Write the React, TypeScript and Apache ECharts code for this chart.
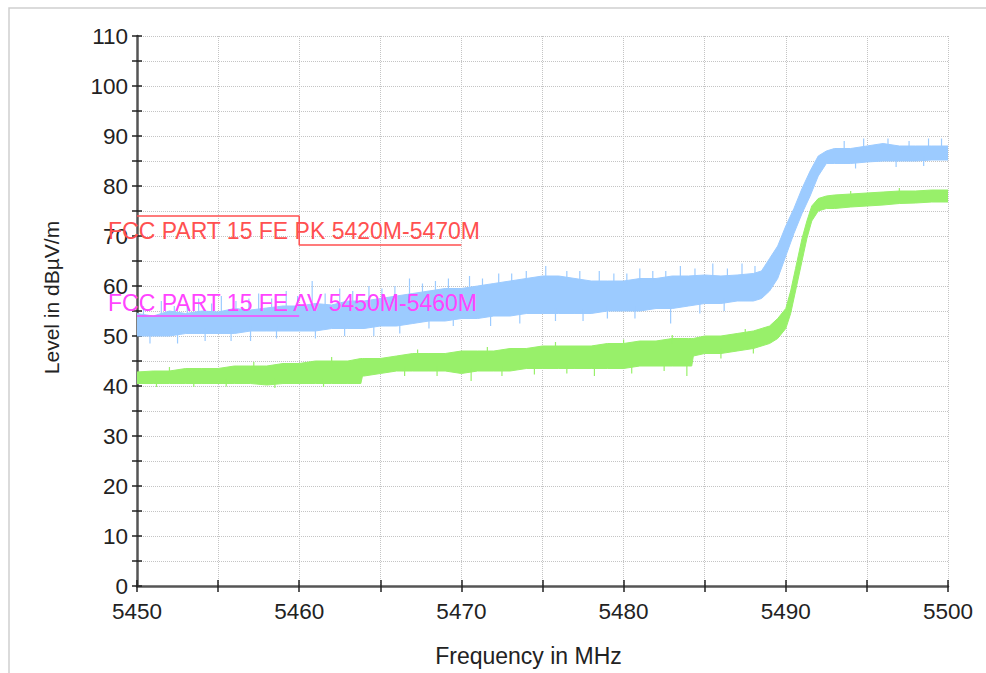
import React, { useEffect, useRef } from "react";
import * as echarts from "echarts";

// ---------- data ----------
const xMin = 5450;
const xMax = 5500;
const yMin = 0;
const yMax = 110;

// Peak trace envelope (light blue)
const pkFreq = [
  5450, 5451, 5452, 5453, 5454, 5455, 5456, 5457, 5458, 5459,
  5460, 5461, 5462, 5463, 5464, 5465, 5466, 5467, 5468, 5469,
  5470, 5471, 5472, 5473, 5474, 5475, 5476, 5477, 5478, 5479,
  5480, 5481, 5482, 5483, 5484, 5485, 5486, 5487, 5488,
  5488.5, 5489, 5489.5, 5490, 5490.5, 5491, 5491.5, 5492, 5492.5,
  5493, 5494, 5495, 5496, 5497, 5498, 5499, 5500,
];
const pkMax = [
  54.5, 54, 55, 54.5, 55, 54.8, 55.5, 55.2, 55.6, 56,
  56, 56.5, 56.2, 57, 57, 57.5, 58, 58.5, 59, 59.5,
  59.5, 60, 60.5, 61, 61.5, 62, 62, 61.5, 61, 61,
  61, 61.5, 61.5, 62, 62, 62.2, 62, 62.2, 62.5,
  63, 65.5, 68, 72, 75.5, 79.5, 83, 86, 87,
  87.5, 87.5, 88, 88.5, 88, 88, 88, 88,
];
const pkMin = [
  50, 50, 50, 50.5, 50.5, 50.5, 50.5, 51, 51, 51,
  51, 51, 51.5, 51.5, 51.5, 52, 52, 52.5, 53, 53,
  53.5, 53.5, 54, 54, 54.5, 54.5, 54.5, 54.5, 54.5, 55,
  55, 55, 55.5, 55.5, 56, 56.5, 56.5, 57, 57,
  57.5, 59, 61.5, 66, 70.5, 74.5, 78, 82, 84.5,
  84.5, 84.5, 84.8, 85, 85, 85, 85.2, 85.2,
];
// isolated noise spikes of the peak trace: [freq, from, to]
const pkSpikes = [
  [5450.4, 53.5, 56], [5451.5, 54, 57], [5452.3, 54, 56], [5453.1, 54, 56.5],
  [5453.8, 54.5, 57.5], [5454.6, 54.5, 56.5], [5455.2, 54.5, 58], [5456.1, 55, 57],
  [5456.9, 55, 57.5], [5457.5, 55, 58.5], [5458.3, 55, 57.5], [5459.2, 55.5, 59],
  [5459.9, 55.5, 58], [5460.8, 56, 61], [5461.6, 56, 58.5], [5462.5, 56, 59.5],
  [5463.3, 56.5, 59], [5464.3, 57, 60], [5465.1, 57, 59.5], [5465.9, 57.5, 60],
  [5466.8, 58, 61.5], [5467.6, 58, 60.5], [5468.4, 58.5, 61], [5469.2, 59, 61.5],
  [5470.5, 59, 62], [5471.3, 59.5, 61.5], [5472.3, 60, 62.5], [5473.1, 60.5, 62.5],
  [5474, 61, 63], [5475.2, 61.5, 64], [5476.5, 61.5, 63], [5477.3, 61, 63],
  [5478.5, 60.5, 63], [5479.4, 60.5, 62.5], [5480.2, 60.5, 62.5], [5481, 61, 63.5],
  [5481.8, 61, 63], [5482.6, 61, 63], [5483.5, 61.5, 64], [5484.4, 61.5, 63.5],
  [5485.5, 62, 64.5], [5486.4, 61.5, 63.5], [5487.3, 62, 64.5], [5488.1, 62, 64],
  [5493.6, 87, 89], [5494.8, 87, 89.5], [5496.3, 87.5, 89.5], [5497.6, 87.5, 89],
  [5498.8, 87.5, 89.5], [5499.6, 87.5, 89.5],
  [5450.8, 48.5, 51], [5452.5, 48.5, 51], [5454.2, 49, 51.5], [5455.8, 49, 51.5],
  [5457, 49, 52], [5458.6, 49.5, 52], [5461, 49.5, 52], [5462.8, 50, 52.5],
  [5464.6, 50, 52.5], [5466.2, 50.5, 53], [5468, 51.5, 54], [5469.5, 52, 54],
  [5471.8, 52, 54.5], [5473.6, 52.5, 55], [5475.8, 53, 55.5], [5477.5, 53, 55.5],
  [5479, 53.5, 56], [5480.7, 53.5, 56], [5482.9, 52.5, 56], [5484.7, 54.5, 57],
  [5486.2, 55, 57.5], [5494.3, 83.5, 85.5], [5496.8, 83.8, 86], [5498.5, 84, 86],
];

// Average trace envelope (light green)
const avFreq = [
  5450, 5451, 5452, 5453, 5454, 5455, 5456, 5457, 5458, 5459,
  5460, 5461, 5462, 5463, 5463.8, 5463.9, 5464, 5465, 5466, 5467,
  5468, 5469, 5470, 5471, 5472, 5473, 5474, 5475, 5476, 5477,
  5478, 5479, 5480, 5481, 5482, 5483, 5484, 5484.2, 5484.3, 5485,
  5486, 5487, 5488, 5489, 5489.5, 5490, 5490.3, 5490.6, 5491, 5491.3,
  5491.6, 5492, 5492.5, 5493, 5494, 5495, 5496, 5497, 5498, 5499, 5500,
];
const avMax = [
  42.8, 43, 43, 43.5, 43.5, 43.5, 44, 44, 44, 44.5,
  44.5, 45, 45, 45, 45.5, 45.5, 45.5, 45.5, 46, 46.5,
  46.5, 46.5, 47, 47, 47, 47.5, 47.5, 48, 48, 48,
  48, 48.5, 48.5, 49, 49, 49.5, 49.5, 49.5, 49.5, 50,
  50, 50.5, 51, 52, 53.5, 55.5, 59, 63.5, 69.5, 73,
  76, 77.5, 78, 78.2, 78.4, 78.6, 78.8, 79, 79, 79.2, 79.2,
];
const avMin = [
  40.5, 40.5, 40.5, 40.5, 40.5, 40.5, 40.5, 40.5, 40.2, 40.5,
  40.5, 40.5, 40.5, 40.5, 40.5, 42, 42, 42.5, 43, 43,
  43, 43, 42.5, 43, 43, 43, 43.5, 43.5, 43.5, 43.5,
  43.5, 43.5, 43.5, 44, 44, 44, 44, 44, 46, 46.5,
  46.5, 47, 47.5, 48.5, 49.5, 51.5, 54.5, 59, 65, 69.5,
  73, 75, 75.5, 75.5, 75.8, 76, 76.2, 76.5, 76.6, 76.8, 76.8,
];
// isolated noise spikes of the average trace: [freq, from, to]
const avSpikes = [
  [5451.2, 39.8, 41.5], [5453.5, 39.8, 41.5], [5455.5, 39.9, 41.5], [5458.5, 39.6, 41.5],
  [5461.5, 39.8, 41.5], [5466.5, 42, 44], [5468.5, 42, 44], [5470.6, 41, 43.5],
  [5472.5, 42, 44], [5474.5, 42.3, 44.5], [5476.5, 42.5, 44.5], [5478.2, 42, 44.5],
  [5480.5, 42.5, 44.5], [5482.5, 43, 45], [5483.9, 42, 45], [5486, 45.5, 47.5],
  [5488, 46.5, 48.5],
  [5452, 42, 43.8], [5457.2, 43, 44.8], [5462, 44, 45.8], [5467.3, 45.5, 47.3],
  [5471.6, 46, 47.8], [5475.8, 47, 48.8], [5480, 47.5, 49.3], [5483, 48.5, 50.2],
  [5487.5, 49.5, 51.4], [5494, 77.5, 79], [5497, 78, 79.6],
];

// Limit lines
const pkLimit = [[5450, 74], [5460, 74], [5460, 68.2], [5470, 68.2]];
const avLimit = [[5450, 54], [5460, 54]];
const pkLimitLabel = "FCC PART 15 FE PK 5420M-5470M";
const avLimitLabel = "FCC PART 15 FE AV 5450M-5460M";

const xTitle = "Frequency in MHz";
const yTitle = "Level in dBµV/m";

// ---------- styles ----------
const FONT = "'Liberation Sans', Arial, sans-serif";
const BLUE = "#9ccbff";
const GREEN = "#98f06a";
const RED = "#ff5050";
const MAGENTA = "#ff44ff";

function bandSeries(name: string, freq: number[], lo: number[], hi: number[], color: string) {
  return {
    type: "custom",
    name,
    xAxisIndex: 0,
    yAxisIndex: 0,
    silent: true,
    clip: true,
    data: [[freq[0], lo[0]]],
    renderItem: (_p: any, api: any) => {
      const pts: number[][] = [];
      for (let i = 0; i < freq.length; i++) pts.push(api.coord([freq[i], hi[i]]));
      for (let i = freq.length - 1; i >= 0; i--) pts.push(api.coord([freq[i], lo[i]]));
      return {
        type: "polygon",
        shape: { points: pts },
        style: { fill: color, stroke: color, lineWidth: 1 },
      };
    },
  };
}

function spikeSeries(name: string, spikes: number[][], color: string) {
  return {
    type: "custom",
    name,
    xAxisIndex: 0,
    yAxisIndex: 0,
    silent: true,
    clip: true,
    data: spikes,
    encode: { x: 0, y: [1, 2] },
    renderItem: (_p: any, api: any) => {
      const a = api.coord([api.value(0), api.value(1)]);
      const b = api.coord([api.value(0), api.value(2)]);
      return {
        type: "line",
        shape: { x1: a[0], y1: a[1], x2: b[0], y2: b[1] },
        style: { stroke: color, lineWidth: 1.2 },
      };
    },
  };
}

export default function App() {
  const ref = useRef<HTMLDivElement>(null);

  useEffect(() => {
    if (!ref.current) return;
    const chart = echarts.init(ref.current, undefined, { renderer: "svg" });

    const axisLineStyle = { color: "#555", width: 2.5 };
    const tickStyle = { color: "#222", width: 1.5 };
    const gridLine = { show: true, lineStyle: { type: "dotted", color: "#c4c4c4", width: 1 } };

    const option: any = {
      animation: false,
      backgroundColor: "#fff",
      textStyle: { fontFamily: FONT },
      grid: { left: 137, right: 38, top: 36, bottom: 87, containLabel: false },
      xAxis: [
        {
          type: "value",
          min: xMin,
          max: xMax,
          interval: 5,
          name: xTitle,
          nameLocation: "middle",
          nameGap: 58,
          nameTextStyle: { fontSize: 23, color: "#222", fontFamily: FONT, padding: [0, 28, 0, 0] },
          axisLine: { show: true, onZero: false, lineStyle: axisLineStyle },
          axisTick: { show: true, length: 6, lineStyle: tickStyle },
          axisLabel: {
            fontSize: 22.5,
            color: "#222",
            fontFamily: FONT,
            margin: 14,
            formatter: (v: number) => (v % 10 === 0 ? String(v) : ""),
          },
          splitLine: gridLine,
        },
        {
          type: "value",
          min: xMin,
          max: xMax,
          interval: 5,
          position: "bottom",
          axisLine: { show: false },
          axisTick: { show: true, inside: true, length: 6, lineStyle: tickStyle },
          axisLabel: { show: false },
          splitLine: { show: false },
        },
      ],
      yAxis: [
        {
          type: "value",
          min: yMin,
          max: yMax,
          interval: 5,
          name: yTitle,
          nameLocation: "middle",
          nameGap: 75,
          nameTextStyle: { fontSize: 21, color: "#222", fontFamily: FONT, padding: [0, 0, 0, 27] },
          axisLine: { show: true, onZero: false, lineStyle: axisLineStyle },
          axisTick: { show: true, length: 5, lineStyle: tickStyle },
          axisLabel: {
            fontSize: 22.5,
            color: "#222",
            fontFamily: FONT,
            margin: 9,
            formatter: (v: number) => (v % 10 === 0 ? String(v) : ""),
          },
          splitLine: gridLine,
        },
        {
          type: "value",
          min: yMin,
          max: yMax,
          interval: 5,
          position: "left",
          axisLine: { show: false },
          axisTick: { show: true, inside: true, length: 5, lineStyle: tickStyle },
          axisLabel: { show: false },
          splitLine: { show: false },
        },
      ],
      series: [
        bandSeries("PK", pkFreq, pkMin, pkMax, BLUE),
        spikeSeries("PK spikes", pkSpikes, BLUE),
        bandSeries("AV", avFreq, avMin, avMax, GREEN),
        spikeSeries("AV spikes", avSpikes, GREEN),
        {
          type: "line",
          name: pkLimitLabel,
          data: pkLimit,
          symbol: "none",
          silent: true,
          lineStyle: { color: RED, width: 1.5 },
          z: 5,
        },
        {
          type: "line",
          name: avLimitLabel,
          data: avLimit,
          symbol: "none",
          silent: true,
          lineStyle: { color: MAGENTA, width: 1.5 },
          z: 5,
        },
      ],
      graphic: [
        {
          type: "rect",
          shape: { x: 9, y: 8, width: 1200, height: 900 },
          style: { fill: "none", stroke: "#cfcfcf", lineWidth: 1.5 },
          silent: true,
          z: -10,
        },
        {
          type: "text",
          x: 108,
          y: 231,
          z: 10,
          style: {
            text: pkLimitLabel,
            fill: RED,
            font: `23px ${FONT}`,
            textAlign: "left",
            textVerticalAlign: "middle",
          },
        },
        {
          type: "text",
          x: 108,
          y: 303,
          z: 10,
          style: {
            text: avLimitLabel,
            fill: MAGENTA,
            font: `23px ${FONT}`,
            textAlign: "left",
            textVerticalAlign: "middle",
          },
        },
      ],
    };

    chart.setOption(option);
    return () => chart.dispose();
  }, []);

  return (
    <div
      ref={ref}
      style={{ position: "absolute", left: 0, top: 0, width: 986, height: 673, background: "#fff" }}
    />
  );
}
